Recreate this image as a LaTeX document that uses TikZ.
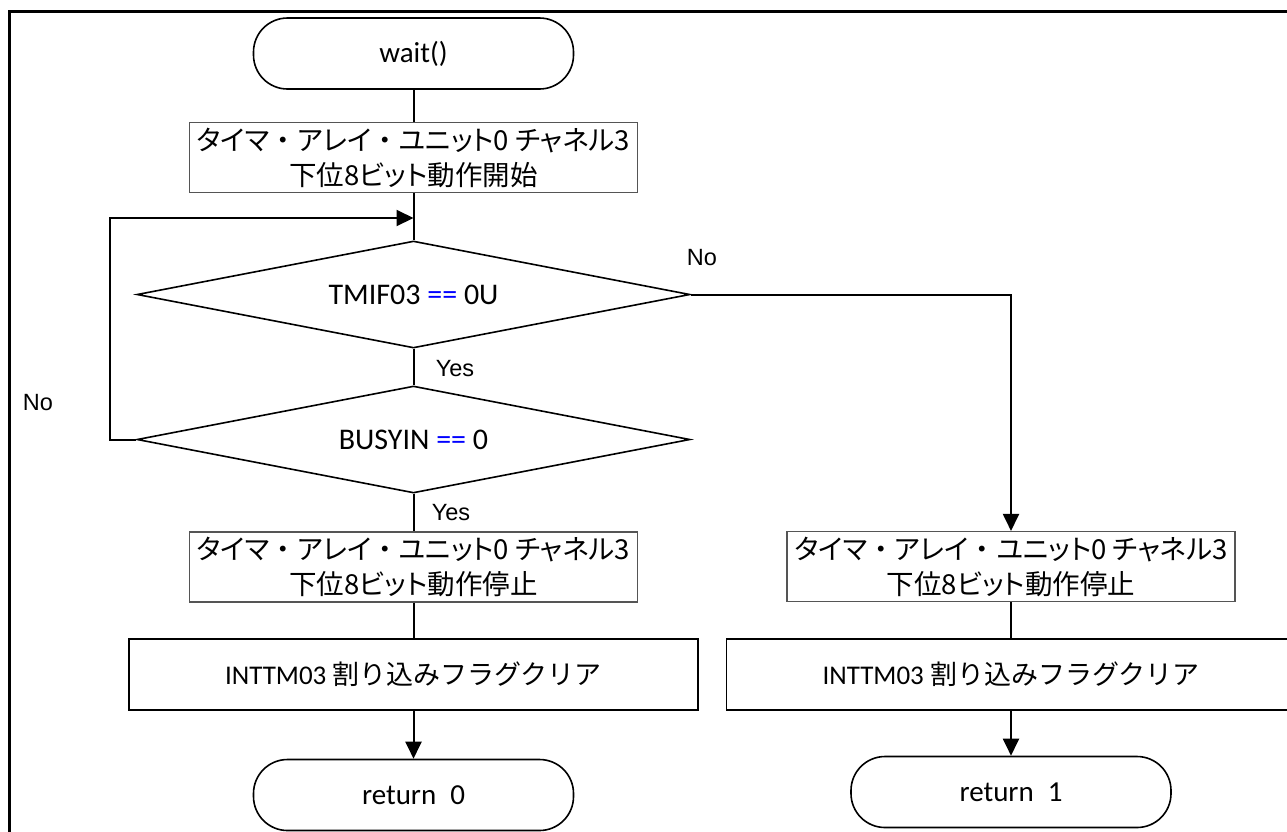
\documentclass[tikz,border=0pt]{standalone}
\usepackage{fontspec}
\setmainfont{Carlito}
\newfontfamily\jpfont[RawFeature=+palt]{Noto Sans CJK JP}
\newfontfamily\jpfull{Noto Sans CJK JP}
\newfontfamily\arialfont{Liberation Sans}
\usetikzlibrary{shapes.geometric,arrows.meta}
\definecolor{boxgray}{HTML}{555555}
\definecolor{eqblue}{HTML}{0000FF}
\newcommand{\nakaguro}{{\jpfull ・}}
\begin{document}
\begin{tikzpicture}[x=1pt,y=-1pt,
  term/.style={draw=black,line width=1.6pt,rounded corners=34pt,minimum width=320pt,minimum height=71pt,inner sep=0pt,font=\fontsize{29}{34}\selectfont},
  proc/.style={draw=boxgray,line width=1.1pt,minimum width=448pt,minimum height=70pt,inner sep=0pt,align=center,font=\jpfont\fontsize{27.5}{35}\selectfont},
  wide/.style={draw=black,line width=1.1pt,minimum width=569pt,minimum height=71pt,inner sep=0pt,font=\fontsize{27}{32}\selectfont},
  dec/.style={diamond,aspect=5.168,draw=black,line width=1.6pt,minimum width=553pt,minimum height=107pt,inner sep=0pt,font=\fontsize{30}{34}\selectfont},
  conn/.style={line width=2pt},
  arr/.style={line width=2pt,-{Triangle[length=17pt,width=16pt]}},
  lbl/.style={font=\arialfont\fontsize{23.5}{28}\selectfont,inner sep=0pt},
]
\clip (0,0) rectangle (1287,831);
\draw[line width=3pt] (9.5,11.5) rectangle (1400,1000);

\node[term] (start) at (413.5,53.5) {wait()};
\node[proc] (p1) at (413.5,157.5) {タイマ\nakaguro アレイ\nakaguro ユニット0 チャネル3\\下位8ビット動作開始};
\node[dec] (d1) at (413.5,294.5) {TMIF03 \textcolor{eqblue}{==} 0U};
\node[dec] (d2) at (413.5,439.5) {BUSYIN \textcolor{eqblue}{==} 0};
\node[proc] (p2) at (413.5,567) {タイマ\nakaguro アレイ\nakaguro ユニット0 チャネル3\\下位8ビット動作停止};
\node[wide] (c1) at (413.5,674.5) {INTTM03 {\jpfull 割り込みフラグクリア}};
\node[term] (r0) at (413.5,795) {return\hspace{14pt}0};

\node[proc] (p3) at (1011,566.5) {タイマ\nakaguro アレイ\nakaguro ユニット0 チャネル3\\下位8ビット動作停止};
\node[wide] (c2) at (1011,674.5) {INTTM03 {\jpfull 割り込みフラグクリア}};
\node[term] (r1) at (1011,792) {return\hspace{14pt}1};

\node[lbl] (no1) at (702,258) {No};
\node[lbl] (yes1) at (455,369) {Yes};
\node[lbl] (no2) at (38,403) {No};
\node[lbl] (yes2) at (451,513) {Yes};

\coordinate (j) at (413.5,218);
\coordinate (loopx) at (110,218);

\draw[conn] (start) -- (p1);
\draw[conn] (p1) -- (d1);
\draw[arr] (d2.west) -- (d2.west -| loopx) -- (loopx) -- (j);
\draw[conn] (d1) -- (d2);
\draw[arr] (d1.east) -| (p3.north);
\draw[conn] (d2) -- (p2);
\draw[conn] (p2) -- (c1);
\draw[arr] (c1) -- (r0);
\draw[conn] (p3) -- (c2);
\draw[arr] (c2) -- (r1);
\end{tikzpicture}
\end{document}
